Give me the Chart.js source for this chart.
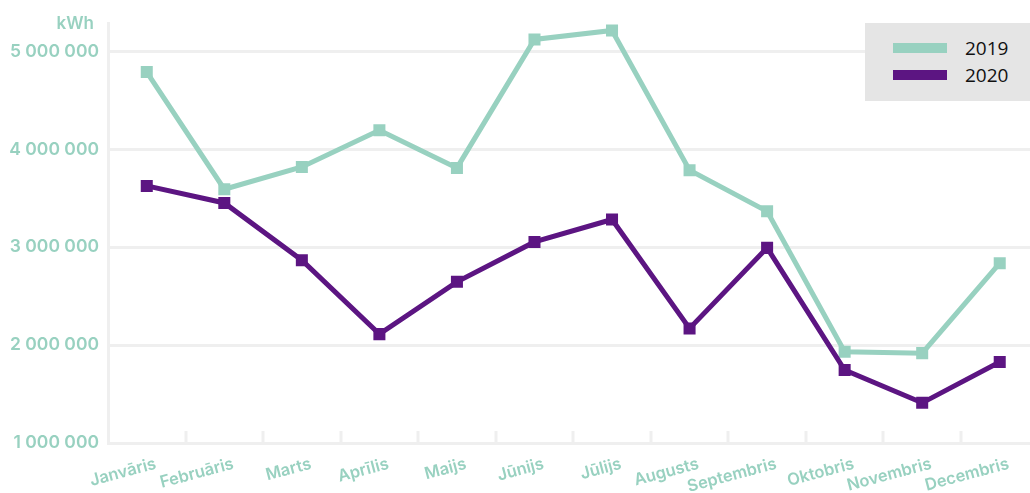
<!DOCTYPE html>
<html>
<head>
<meta charset="utf-8">
<script src="https://cdn.jsdelivr.net/npm/chart.js@4/dist/chart.umd.min.js"></script>
<style>
  html, body { margin: 0; padding: 0; background: #fff; overflow: hidden; }
  #wrap { position: relative; width: 1047px; height: 493px; }
  #legend {
    position: absolute; left: 865px; top: 23px; width: 180px; height: 78px;
    background: #e5e5e5; font-family: "Open Sans", sans-serif; font-size: 19px; color: #111;
  }
  .item { position: absolute; left: 28px; height: 26px; line-height: 26px; }
  .item span.sw { position: absolute; left: 0; top: 8px; width: 54px; height: 10px; }
  .item span.tx { position: absolute; left: 72px; top: 0; }
</style>
</head>
<body>
<div id="wrap">
  <canvas id="c" width="1047" height="493"></canvas>
  <div id="legend">
    <div class="item" style="top:12px"><span class="sw" style="background:#98d1c0"></span><span class="tx">2019</span></div>
    <div class="item" style="top:39px"><span class="sw" style="background:#5c1582"></span><span class="tx">2020</span></div>
  </div>
</div>
<script>
// Monthly energy consumption, kWh
const months = ['Janvāris', 'Februāris', 'Marts', 'Aprīlis', 'Maijs', 'Jūnijs', 'Jūlijs', 'Augusts', 'Septembris', 'Oktobris', 'Novembris', 'Decembris'];
const values2019 = [4789000, 3592000, 3820000, 4194000, 3810000, 5122000, 5214000, 3786000, 3367000, 1932000, 1918000, 2837000];
const values2020 = [3626000, 3452000, 2867000, 2112000, 2646000, 3054000, 3283000, 2170000, 2993000, 1745000, 1410000, 1827000];
const yTicks = [1000000, 2000000, 3000000, 4000000, 5000000];
const unitLabel = 'kWh';

const TEAL = '#98d1c0';
const PURPLE = '#5c1582';
const GRID = '#efefef';

const fmt = v => String(Math.round(v)).replace(/\B(?=(\d{3})+(?!\d))/g, ' ');

// Unit caption above the value axis and short category separators
const extras = {
  id: 'extras',
  afterDraw(chart) {
    const { ctx } = chart;
    ctx.save();
    ctx.fillStyle = TEAL;
    ctx.font = '600 17px Inter';
    ctx.textAlign = 'right';
    ctx.textBaseline = 'middle';
    ctx.fillText(unitLabel, 94, 24);
    ctx.restore();
  },
  beforeDatasetsDraw(chart) {
    const { ctx, scales: { x, y } } = chart;
    ctx.save();
    ctx.strokeStyle = GRID;
    ctx.lineWidth = 3;
    const bottom = y.bottom;
    for (let i = 1; i < months.length; i++) {
      const px = Math.round((x.getPixelForValue(i - 1) + x.getPixelForValue(i)) / 2);
      ctx.beginPath();
      ctx.moveTo(px, bottom - 12);
      ctx.lineTo(px, bottom);
      ctx.stroke();
    }
    ctx.restore();
  }
};

new Chart(document.getElementById('c'), {
  type: 'line',
  data: {
    labels: months,
    datasets: [
      {
        label: '2019', data: values2019, order: 1,
        borderColor: TEAL, backgroundColor: TEAL, borderWidth: 5,
        pointStyle: 'rect', pointRadius: 8.5, pointBorderWidth: 0, pointHoverRadius: 8.5,
        tension: 0
      },
      {
        label: '2020', data: values2020, order: 0,
        borderColor: PURPLE, backgroundColor: PURPLE, borderWidth: 5,
        pointStyle: 'rect', pointRadius: 8.5, pointBorderWidth: 0, pointHoverRadius: 8.5,
        tension: 0
      }
    ]
  },
  options: {
    responsive: false,
    animation: false,
    layout: { padding: { top: 23, right: 2, left: 0, bottom: 0 } },
    plugins: { legend: { display: false }, tooltip: { enabled: false } },
    scales: {
      x: {
        offset: true,
        grid: { display: false },
        border: { color: GRID, width: 3 },
        ticks: {
          color: TEAL, font: { family: 'Inter', size: 16.5, weight: '600' },
          minRotation: 15, maxRotation: 15, padding: 3, labelOffset: 9, autoSkip: false
        },
        afterFit(s) { s.height = 50; }
      },
      y: {
        min: 1000000, max: 5290000,
        afterBuildTicks(s) { s.ticks = yTicks.map(v => ({ value: v })); },
        grid: { color: GRID, lineWidth: 3, drawTicks: false },
        border: { color: GRID, width: 3 },
        ticks: { color: TEAL, font: { family: 'Inter', size: 17.5, weight: '600' }, padding: 9, callback: v => fmt(v) },
        afterFit(s) { s.width = 108; }
      }
    }
  },
  plugins: [extras]
});
</script>
</body>
</html>
